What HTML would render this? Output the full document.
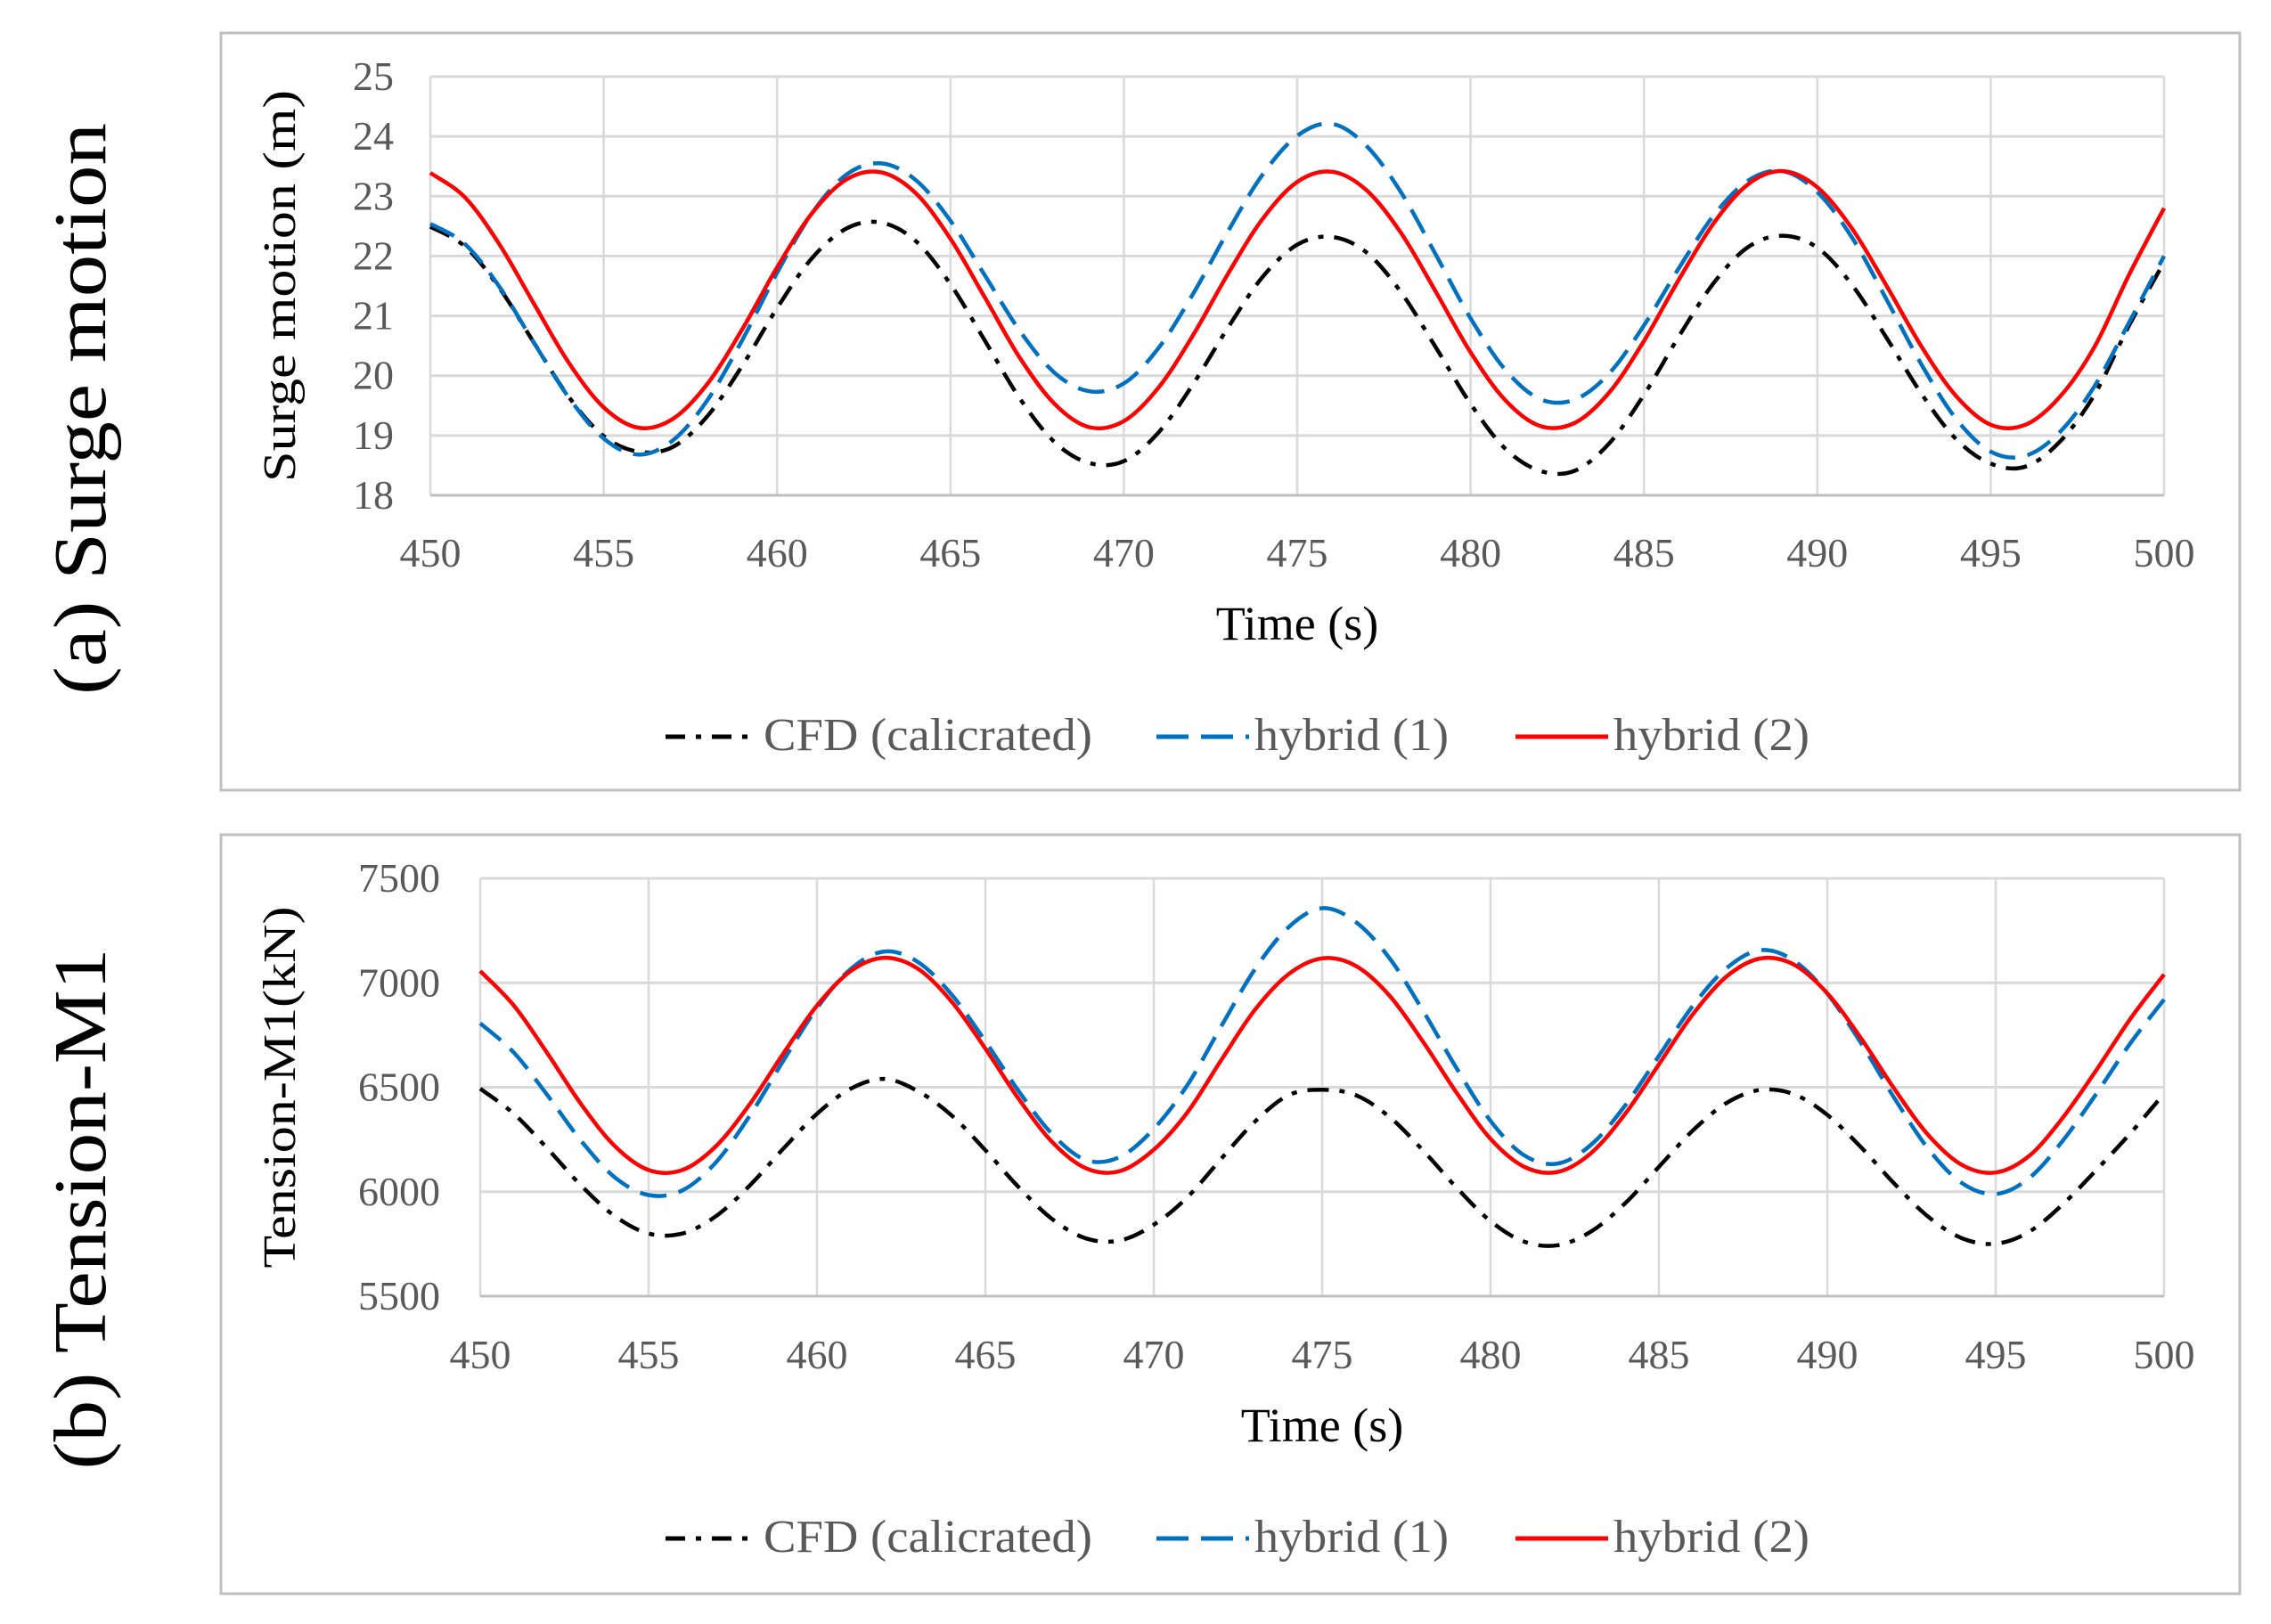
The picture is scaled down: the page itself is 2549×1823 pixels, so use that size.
<!DOCTYPE html>
<html><head><meta charset="utf-8">
<style>
html,body{margin:0;padding:0;background:#fff;}
svg{display:block;font-family:"Liberation Serif",serif;}
</style></head>
<body>
<svg id="root" width="2549" height="1823" viewBox="0 0 2549 1823">
  <text x="118" y="459" font-size="84" text-anchor="middle" transform="rotate(-90 118 459)" textLength="642" lengthAdjust="spacingAndGlyphs">(a) Surge motion</text>
  <text x="118" y="1357" font-size="84" text-anchor="middle" transform="rotate(-90 118 1357)" textLength="585" lengthAdjust="spacingAndGlyphs">(b) Tension-M1</text>
  <rect x="248" y="37" width="2266" height="850" fill="none" stroke="#bfbfbf" stroke-width="3"/>
  <rect x="248" y="937" width="2266" height="852" fill="none" stroke="#bfbfbf" stroke-width="3"/>
  <g id="chartA"></g>
  <g id="chartB"></g>
</svg>
<script>
const times = [];
for (let t = 450; t <= 500; t++) times.push(t);
const xTicks = [450,455,460,465,470,475,480,485,490,495,500];
const surgeTicks = [18,19,20,21,22,23,24,25];
const tensionTicks = [5500,6000,6500,7000,7500];
const seriesNames = ["CFD (calicrated)","hybrid (1)","hybrid (2)"];

const surgeCFD = [22.49,22.16,21.46,20.54,19.64,18.99,18.73,18.81,19.33,20.17,21.13,21.96,22.46,22.56,22.25,21.53,20.58,19.62,18.89,18.54,18.57,19.05,19.86,20.80,21.65,22.19,22.32,22.06,21.39,20.47,19.53,18.78,18.41,18.41,18.87,19.68,20.65,21.54,22.15,22.34,22.14,21.52,20.63,19.70,18.94,18.53,18.48,18.90,19.69,20.85,21.9];
const surgeHyb1 = [22.54,22.20,21.48,20.54,19.63,18.95,18.68,18.92,19.60,20.60,21.72,22.71,23.36,23.55,23.27,22.59,21.67,20.75,20.05,19.74,19.87,20.46,21.37,22.41,23.36,24.01,24.21,23.84,23.06,22.02,20.96,20.10,19.61,19.60,20.04,20.84,21.79,22.67,23.26,23.42,23.07,22.31,21.27,20.19,19.28,18.73,18.66,19.06,19.83,20.9,22.0];
const surgeHyb2 = [23.39,22.98,22.19,21.19,20.21,19.47,19.13,19.28,19.87,20.78,21.81,22.71,23.28,23.40,23.05,22.29,21.30,20.30,19.53,19.14,19.24,19.80,20.68,21.70,22.62,23.24,23.41,23.10,22.38,21.40,20.39,19.59,19.16,19.21,19.72,20.58,21.60,22.54,23.20,23.42,23.15,22.46,21.50,20.49,19.66,19.18,19.18,19.65,20.49,21.7,22.8];

const tenCFD = [6493,6373,6206,6029,5883,5800,5800,5883,6029,6206,6373,6493,6540,6481,6365,6199,6020,5867,5776,5767,5842,5974,6157,6335,6462,6488,6462,6358,6197,6018,5859,5761,5744,5811,5945,6119,6292,6424,6487,6467,6368,6213,6037,5880,5777,5751,5809,5941,6106,6280,6470];
const tenHyb1 = [6806,6666,6461,6243,6068,5984,6006,6141,6363,6627,6879,7066,7150,7099,6943,6720,6479,6273,6151,6167,6301,6511,6791,7064,7266,7357,7291,7118,6865,6589,6339,6174,6135,6227,6413,6650,6888,7069,7156,7107,6948,6712,6446,6205,6041,5989,6066,6246,6472,6711,6920];
const tenHyb2 = [7056,6891,6661,6418,6218,6104,6104,6218,6418,6661,6891,7056,7120,7067,6910,6685,6442,6235,6111,6099,6201,6380,6629,6870,7041,7117,7081,6939,6717,6472,6253,6119,6095,6187,6373,6610,6848,7029,7116,7088,6950,6735,6490,6271,6128,6092,6172,6356,6585,6828,7040];

const NS = "http://www.w3.org/2000/svg";
function mk(parent, tag, attrs, text) {
  const e = document.createElementNS(NS, tag);
  for (const k in attrs) e.setAttribute(k, attrs[k]);
  if (text !== undefined) e.textContent = text;
  parent.appendChild(e);
  return e;
}
function smoothPath(pts) {
  let d = "M" + pts[0][0].toFixed(1) + "," + pts[0][1].toFixed(1);
  for (let i = 0; i < pts.length - 1; i++) {
    const p0 = pts[Math.max(0, i - 1)], p1 = pts[i], p2 = pts[i + 1], p3 = pts[Math.min(pts.length - 1, i + 2)];
    const c1x = p1[0] + (p2[0] - p0[0]) / 6, c1y = p1[1] + (p2[1] - p0[1]) / 6;
    const c2x = p2[0] - (p3[0] - p1[0]) / 6, c2y = p2[1] - (p3[1] - p1[1]) / 6;
    d += " C" + c1x.toFixed(1) + "," + c1y.toFixed(1) + " " + c2x.toFixed(1) + "," + c2y.toFixed(1) + " " + p2[0].toFixed(1) + "," + p2[1].toFixed(1);
  }
  return d;
}
const styles = [
  {stroke:"#000000", dash:"24 12 6 12"},
  {stroke:"#0070C0", dash:"30 14"},
  {stroke:"#FF0000", dash:""}
];
const legendLens = [369, 218, 220];

function buildChart(g, cfg) {
  const {L, R, T, B, ymin, ymax, yTicks, yLabelX, yTitle, yTitleX, yTitleLen, xLabelY, xTitleY, legendY, series, prefix} = cfg;
  const xs = t => L + (t - 450) / 50 * (R - L);
  const ys = v => B - (v - ymin) / (ymax - ymin) * (B - T);
  xTicks.forEach(t => {
    const l = mk(g, "line", {x1: xs(t), x2: xs(t), y1: T, y2: B, stroke: "#d9d9d9", "stroke-width": 2.5});
    
    
    const tx = mk(g, "text", {x: xs(t), y: xLabelY, "font-size": 46, fill: "#595959", "text-anchor": "middle"}, String(t));
    
    
  });
  yTicks.forEach(v => {
    const l = mk(g, "line", {x1: L, x2: R, y1: ys(v), y2: ys(v), stroke: v === ymin ? "#bfbfbf" : "#d9d9d9", "stroke-width": 3});
    
    
    const tx = mk(g, "text", {x: yLabelX, y: ys(v) + 15, "font-size": 46, fill: "#595959", "text-anchor": "end"}, String(v));
    
    
  });
  const yt = mk(g, "text", {x: yTitleX, y: (T + B) / 2 + 14, "font-size": 52, "text-anchor": "middle", transform: "rotate(-90 " + yTitleX + " " + ((T + B) / 2) + ")", textLength: yTitleLen, lengthAdjust: "spacingAndGlyphs"}, yTitle);
  
  
  const xt = mk(g, "text", {x: (L + R) / 2, y: xTitleY, "font-size": 54, "text-anchor": "middle"}, "Time (s)");
  
  
  series.forEach((vals, i) => {
    const pts = vals.map((v, j) => [xs(times[j]), ys(v)]);
    const p = mk(g, "path", {d: smoothPath(pts), fill: "none", stroke: styles[i].stroke, "stroke-width": 4.5, "stroke-dasharray": styles[i].dash, "stroke-linejoin": "round"});
    
    
  });
  const lx = [747, 1298, 1701];
  seriesNames.forEach((n, i) => {
    const lg = mk(g, "g", {});
    
    
    mk(lg, "line", {x1: lx[i], x2: lx[i] + 104, y1: legendY - 15, y2: legendY - 15, stroke: styles[i].stroke, "stroke-width": 5, "stroke-dasharray": i === 0 ? "22 12 6 12" : (i === 1 ? "36 14" : "")});
    mk(lg, "text", {x: lx[i] + 110, y: legendY, "font-size": 52, fill: "#595959", textLength: legendLens[i], lengthAdjust: "spacingAndGlyphs"}, n);
  });
}

buildChart(document.getElementById("chartA"), {
  L: 483, R: 2429, T: 86, B: 556, ymin: 18, ymax: 25, yTicks: surgeTicks, yLabelX: 442,
  yTitle: "Surge motion (m)", yTitleX: 317, yTitleLen: 440, xLabelY: 636, xTitleY: 718, legendY: 842,
  series: [surgeCFD, surgeHyb1, surgeHyb2], prefix: "surge"
});
buildChart(document.getElementById("chartB"), {
  L: 539, R: 2429, T: 986, B: 1455, ymin: 5500, ymax: 7500, yTicks: tensionTicks, yLabelX: 494,
  yTitle: "Tension-M1(kN)", yTitleX: 317, yTitleLen: 406, xLabelY: 1536, xTitleY: 1618, legendY: 1742,
  series: [tenCFD, tenHyb1, tenHyb2], prefix: "tension"
});
</script>
</body></html>
